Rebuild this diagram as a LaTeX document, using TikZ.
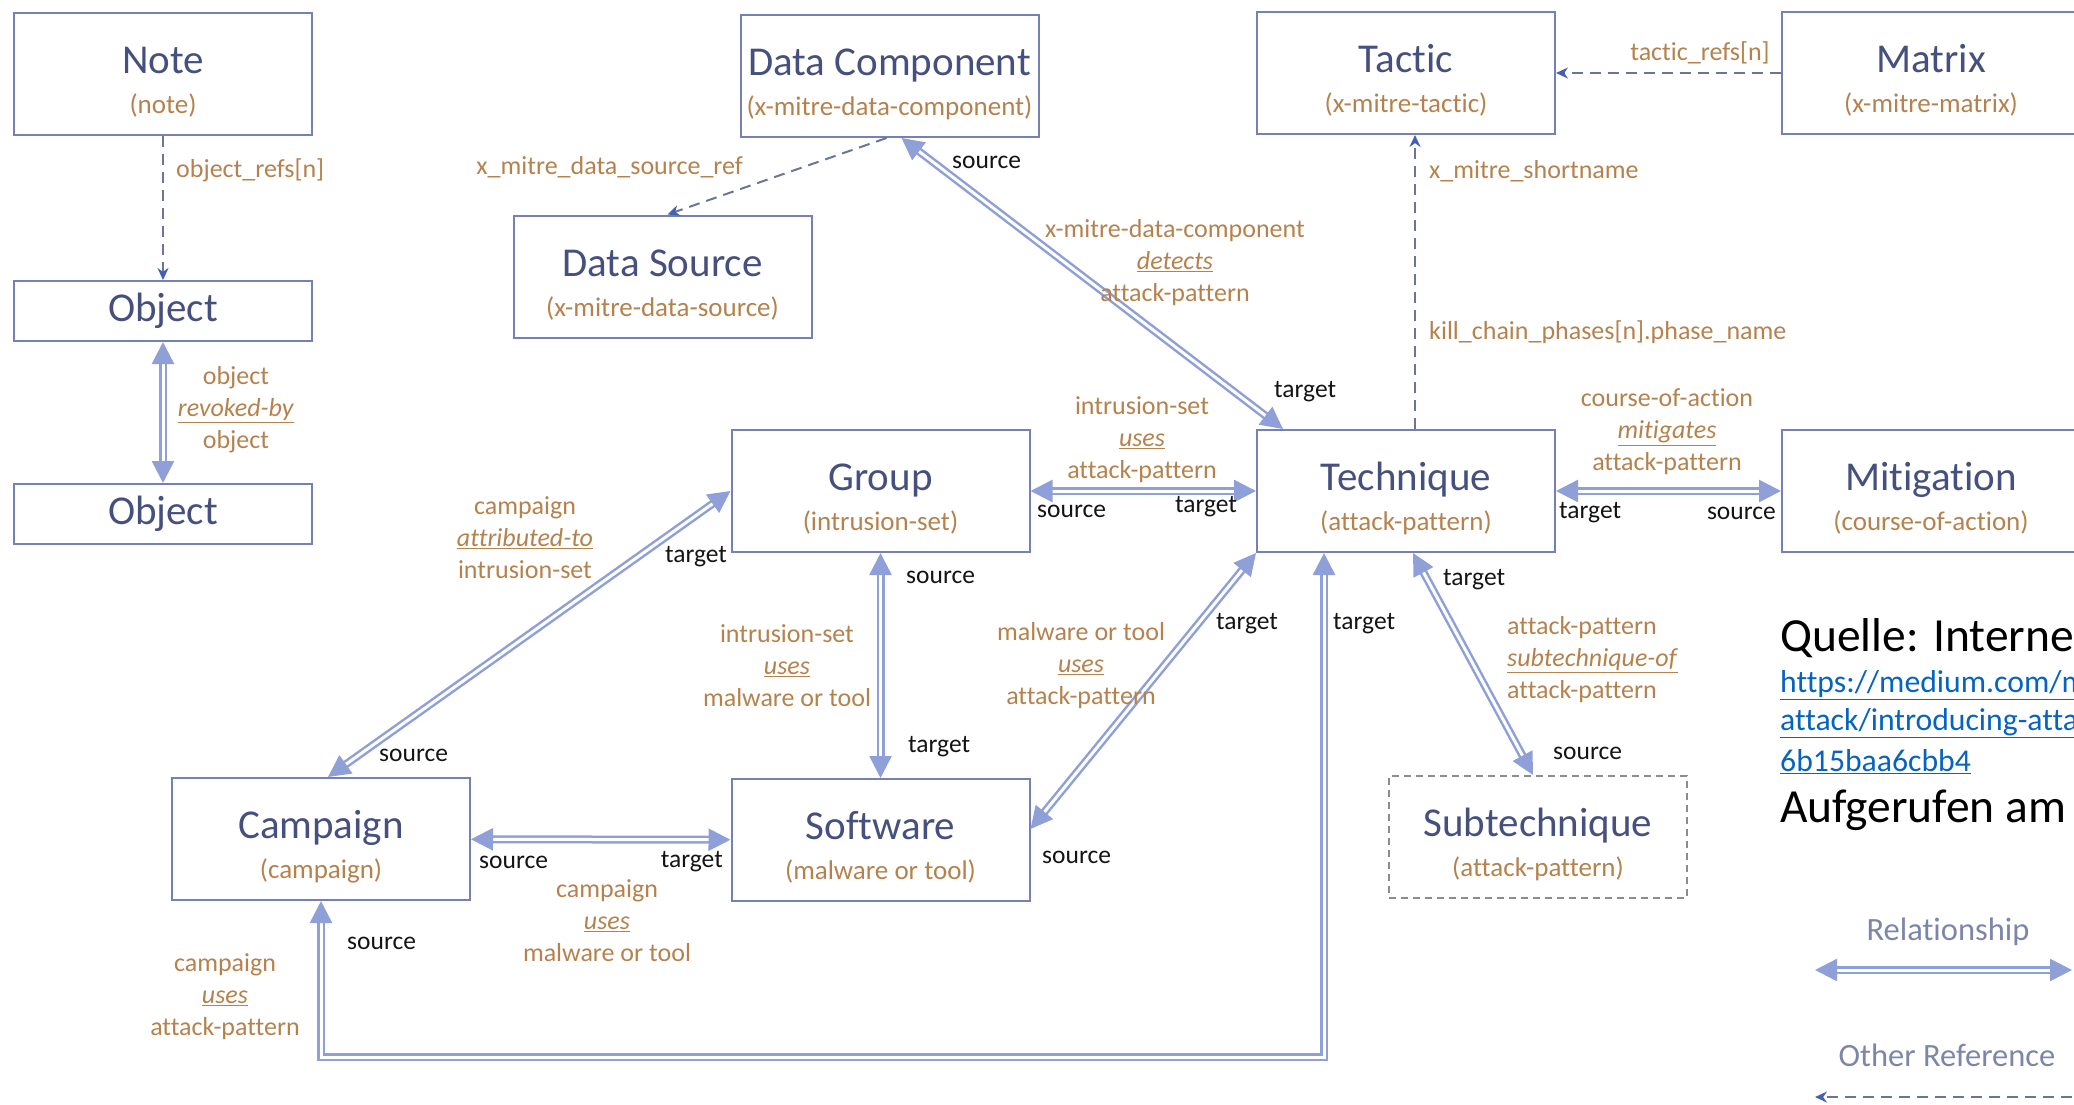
\documentclass[tikz,border=0pt]{standalone}
\usepackage{fontspec}
\setmainfont{Carlito}[Ligatures=NoCommon]
\usepackage{tikz}
\usetikzlibrary{arrows.meta,positioning}
\definecolor{cbox}{HTML}{7480B6}
\definecolor{ctitle}{HTML}{46507E}
\definecolor{csub}{HTML}{B5824D}
\definecolor{crel}{HTML}{8FA0D8}
\definecolor{cref}{HTML}{6C7598}
\definecolor{creftip}{HTML}{4560B2}
\definecolor{crole}{HTML}{141414}
\definecolor{clegend}{HTML}{7C86A8}
\definecolor{clink}{HTML}{0563C1}

\newcommand{\ttl}[1]{{\fontsize{41}{44}\selectfont\color{ctitle}#1}}
\newcommand{\ent}[2]{\rule{0pt}{43pt}\ttl{#1}\\[5pt]#2}
\newcommand{\relw}[1]{\underline{\textit{#1}}}

\begin{document}
\begin{tikzpicture}[
  x=1pt, y=-1pt,
  node distance=225pt,
  entity/.style={rectangle, draw=cbox, line width=2pt, minimum width=298pt,
                 minimum height=122pt, inner sep=0pt, align=center,
                 font=\fontsize{27}{35}\selectfont, text=csub},
  objbox/.style={entity, minimum height=60pt},
  subbox/.style={entity, draw=black!45, dash pattern=on 7pt off 5pt},
  relarr/.style={draw=crel, line width=2.5pt, double=white, double distance=3pt,
                 {Triangle[length=22pt,width=22pt]}-{Triangle[length=22pt,width=22pt]}},
  refarr/.style={draw=cref, line width=2pt, dash pattern=on 11pt off 7pt,
                 -{Stealth[length=12pt,width=11pt,color=creftip]}},
  lbl/.style={font=\fontsize{26}{32}\selectfont, text=csub, align=center, inner sep=0pt},
  role/.style={font=\fontsize{25.5}{30}\selectfont, text=crole, inner sep=0pt},
  legend/.style={font=\fontsize{32.5}{36}\selectfont, text=clegend, inner sep=0pt},
  link/.style={font=\fontsize{31.7}{36}\selectfont, text=clink, inner sep=0pt, anchor=west},
  big/.style={font=\fontsize{47.5}{52}\selectfont, text=black, inner sep=0pt, anchor=west}
]
\useasboundingbox (0,0) rectangle (2074,1104);

% Objects
\node[entity] (note) at (163,74) {\ent{Note}{(note)}};
\node[objbox, below=144pt of note] (obj1) {\ttl{Object}};
\node[objbox, below=141pt of obj1] (obj2) {\ttl{Object}};

% Data
\node[entity] (ds) at (662.5,276.5) {\ent{Data Source}{(x-mitre-data-source)}};
\node[entity] (dc) at (889.5,76) {\ent{Data Component}{(x-mitre-data-component)}};

% Middle row
\node[entity] (group) at (880.5,491) {\ent{Group}{(intrusion-set)}};
\node[entity, below=of group] (software) {\ent{Software}{(malware or tool)}};
\node[entity] (technique) at (1406,491) {\ent{Technique}{(attack-pattern)}};
\node[entity, above=294pt of technique] (tactic) {\ent{Tactic}{(x-mitre-tactic)}};
\node[entity, right=of technique] (mitigation) {\ent{Mitigation}{(course-of-action)}};
\node[entity, right=of tactic] (matrix) {\ent{Matrix}{(x-mitre-matrix)}};
\node[entity] (campaign) at (321,839) {\ent{Campaign}{(campaign)}};
\node[subbox] (subtech) at (1538,837) {\ent{Subtechnique}{(attack-pattern)}};

% Other references
\draw[refarr] (note) -- (obj1);
\draw[refarr] ([xshift=-3pt]dc.south) -- ([xshift=5pt]ds.north);
\draw[refarr] (matrix.west) -- (tactic.east);
\draw[refarr] ([xshift=9pt]technique.north) -- ([xshift=9pt]tactic.south);

% Relationships
\draw[relarr] (obj1) -- (obj2);
\draw[relarr] ([xshift=12pt]dc.south) -- ([xshift=27pt]technique.north west);
\draw[relarr] (group) -- (technique);
\draw[relarr] (technique) -- (mitigation);
\draw[relarr] ([xshift=7pt]campaign.north) -- (group.west);
\draw[relarr] (group) -- (software);
\draw[relarr] (technique.south west) -- ([yshift=11pt]software.east);
\draw[relarr] (campaign) -- (software);
\draw[relarr] ([xshift=7pt]technique.south) -- ([xshift=-5pt]subtech.north);
\coordinate (loop) at (0,1057);
\draw[relarr] ([xshift=-82pt]technique.south) |- (loop -| campaign.south) -- (campaign.south);

% Labels
\node[lbl, anchor=west] (lnoteref) at (176,170) {object\_refs[n]};
\node[lbl] (lrevoke) at (236,410) {object\\\relw{revoked-by}\\object};
\node[lbl, anchor=east] (ldsref) at (743,167) {x\_mitre\_data\_source\_ref};
\node[lbl] (ldetect) at (1175,263) {x-mitre-data-component\\\relw{detects}\\attack-pattern};
\node[lbl] (ltacref) at (1700,53) {tactic\_refs[n]};
\node[lbl, anchor=west] (lshort) at (1429,171) {x\_mitre\_shortname};
\node[lbl, anchor=west] (lkill) at (1429,332) {kill\_chain\_phases[n].phase\_name};
\node[lbl] (lgrpuse) at (1142,440) {intrusion-set\\\relw{uses}\\attack-pattern};
\node[lbl] (lmitig) at (1667,432) {course-of-action\\\relw{mitigates}\\attack-pattern};
\node[lbl] (lattrib) at (525,538) {campaign\\\relw{attributed-to}\\intrusion-set};
\node[lbl] (lgrpsw) at (787,666) {intrusion-set\\\relw{uses}\\malware or tool};
\node[lbl] (lswuse) at (1081,666) {malware or tool\\\relw{uses}\\attack-pattern};
\node[lbl, align=left, anchor=west] (lsubof) at (1507,660) {attack-pattern\\\relw{subtechnique-of}\\attack-pattern};
\node[lbl] (lcampsw) at (607,921) {campaign\\\relw{uses}\\malware or tool};
\node[lbl] (lcampuse) at (225,997) {campaign\\\relw{uses}\\attack-pattern};

% source / target
\node[role, anchor=west] (srcdc) at (952,162) {source};
\node[role, anchor=west] (tgtdc) at (1274,392) {target};
\node[role, anchor=west] (srcgrp) at (1037,511) {source};
\node[role] (tgtgrp) at (1206,507) {target};
\node[role, anchor=west] (tgtmit) at (1559,513) {target};
\node[role, anchor=east] (srcmit) at (1776,513) {source};
\node[role] (tgtattr) at (696,557) {target};
\node[role, anchor=west] (srcgrpsw) at (906,577) {source};
\node[role, anchor=west] (tgtgrpsw) at (908,747) {target};
\node[role] (tgtsw) at (1247,624) {target};
\node[role, anchor=west] (tgtloop) at (1333,624) {target};
\node[role, anchor=west] (tgtsub) at (1443,580) {target};
\node[role, anchor=west] (srcsub) at (1553,753) {source};
\node[role, anchor=west] (srcattr) at (379,755) {source};
\node[role, anchor=west] (srccamp) at (479,862) {source};
\node[role, anchor=east] (tgtcamp) at (723,862) {target};
\node[role, anchor=west] (srcsw) at (1042,857) {source};
\node[role, anchor=west] (srcloop) at (347,943) {source};

% Source note
\node[big] (quelle) at (1780,638) {Quelle: Interne};
\node[link] (url1) at (1780,685) {\underline{https://medium.com/m}};
\node[link] (url2) at (1780,723) {\underline{attack/introducing-atta}};
\node[link] (url3) at (1780,762) {\underline{6b15baa6cbb4}};
\node[big] (aufger) at (1780,810) {Aufgerufen am};

% Legend
\node[legend] (lrel) at (1948,932) {Relationship};
\coordinate (relA) at (1815,970);
\coordinate (relB) at (2072,970);
\draw[relarr] (relA) -- (relB);
\node[legend] (lother) at (1947,1055) {Other Reference};
\coordinate (refA) at (2090,1097);
\coordinate (refB) at (1815,1097);
\draw[refarr] (refA) -- (refB);
\end{tikzpicture}
\end{document}
